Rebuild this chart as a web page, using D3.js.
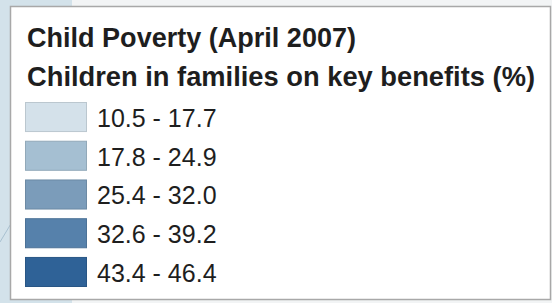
<!DOCTYPE html>
<html>
<head>
<meta charset="utf-8">
<script src="https://cdn.jsdelivr.net/npm/d3@7"></script>
<style>
  body { margin: 0; background: #ffffff; }
  text { font-family: "Liberation Sans", Arial, sans-serif; fill: #1e1e1e; }
</style>
</head>
<body>
<div id="legend"></div>
<script>
// legend data
const titleLines = ["Child Poverty (April 2007)", "Children in families on key benefits (%)"];
const classLabels = ["10.5 - 17.7", "17.8 - 24.9", "25.4 - 32.0", "32.6 - 39.2", "43.4 - 46.4"];
const classColors = ["#d4e1ea", "#a5bfd2", "#7b9cba", "#5681ab", "#2f6297"];

const width = 552, height = 303;

const svg = d3.select("#legend").append("svg")
    .attr("width", width)
    .attr("height", height);

// map background peeking out round the panel
svg.append("rect").attr("x", 0).attr("y", 0).attr("width", width).attr("height", height).attr("fill", "#f2f4f5");
svg.append("rect").attr("x", 0).attr("y", 0).attr("width", 72).attr("height", height).attr("fill", "#d3e2ea");
svg.append("line")
    .attr("x1", 0).attr("y1", 242).attr("x2", 12).attr("y2", 222)
    .attr("stroke", "#a9c1d0").attr("stroke-width", 1);

// panel
svg.append("rect")
    .attr("x", 10.5).attr("y", 6.5)
    .attr("width", 540).attr("height", 293)
    .attr("fill", "#ffffff")
    .attr("stroke", "#a8a8a8")
    .attr("stroke-width", 1.5);

const titleY = [47, 86];
const titleW = [329, 508];
svg.selectAll(".title")
    .data(titleLines)
    .enter().append("text")
    .attr("class", "title")
    .attr("x", 27)
    .attr("y", (d, i) => titleY[i])
    .attr("textLength", (d, i) => titleW[i])
    .attr("lengthAdjust", "spacingAndGlyphs")
    .style("font-size", "27px")
    .style("font-weight", "bold")
    .text(d => d);

// class rows
const y = d3.scaleBand()
    .domain(classLabels)
    .range([102, 286])
    .paddingInner(0.25)
    .paddingOuter(0);

const rows = svg.selectAll(".row")
    .data(classLabels)
    .enter().append("g")
    .attr("class", "row")
    .attr("transform", d => `translate(0, ${y(d)})`);

rows.append("rect")
    .attr("x", 25.5)
    .attr("y", 0.5)
    .attr("width", 61)
    .attr("height", y.bandwidth())
    .attr("fill", (d, i) => classColors[i])
    .attr("stroke", (d, i) => d3.color(classColors[i]).darker(0.35))
    .attr("stroke-width", 1);

rows.append("text")
    .attr("x", 97)
    .attr("y", 25)
    .style("font-size", "25px")
    .text(d => d);
</script>
</body>
</html>
